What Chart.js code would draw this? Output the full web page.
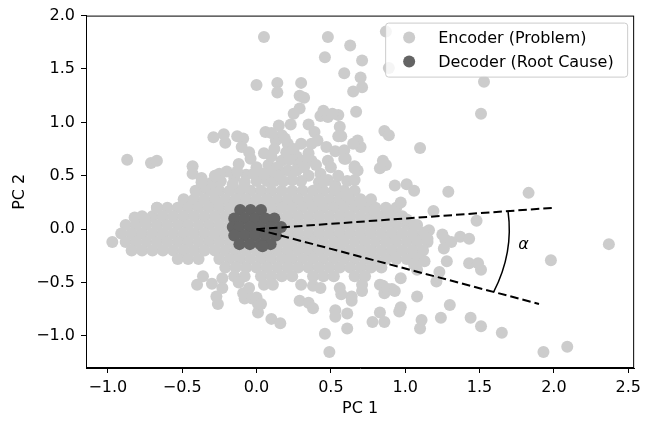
<!DOCTYPE html>
<html>
<head>
<meta charset="utf-8">
<script src="https://cdn.jsdelivr.net/npm/chart.js@4/dist/chart.umd.min.js"></script>
<style>
  html, body { margin: 0; padding: 0; background: #fff; }
</style>
</head>
<body>
<canvas id="c" width="646" height="421"></canvas>
<script>
// ---- axes ----
const xRange = [-1.147, 2.54];
const yRange = [-1.30, 2.0];
const xTicks = [-1.0, -0.5, 0.0, 0.5, 1.0, 1.5, 2.0, 2.5];
const yTicks = [-1.0, -0.5, 0.0, 0.5, 1.0, 1.5, 2.0];

// ---- encoder: dense body, read row by row (y of row, x of points) ----
const coreRowY = [0.36, 0.28, 0.20, 0.12, 0.04, -0.04, -0.12, -0.20, -0.28, -0.36, -0.44];
const coreRowX = [
  [-0.39,-0.32,-0.25,-0.18,-0.11,-0.04,0.03,0.10,0.17,0.24,0.31,0.38,0.45,0.52,0.59,0.66],
  [-0.49,-0.42,-0.35,-0.28,-0.21,-0.14,-0.07,0.00,0.07,0.14,0.21,0.28,0.35,0.42,0.49,0.56,0.63,0.70,0.77],
  [-0.67,-0.60,-0.53,-0.46,-0.39,-0.32,-0.25,-0.18,-0.11,-0.04,0.03,0.10,0.17,0.24,0.31,0.38,0.45,0.52,0.59,0.66,0.73,0.80,0.87,0.94],
  [-0.77,-0.70,-0.63,-0.56,-0.49,-0.42,-0.35,-0.28,-0.21,-0.14,-0.07,0.00,0.07,0.14,0.21,0.28,0.35,0.42,0.49,0.56,0.63,0.70,0.77,0.84,0.91,0.98],
  [-0.88,-0.81,-0.74,-0.67,-0.60,-0.53,-0.46,-0.39,-0.32,-0.25,-0.18,-0.11,-0.04,0.03,0.10,0.17,0.24,0.31,0.38,0.45,0.52,0.59,0.66,0.73,0.80,0.87,0.94,1.01,1.08],
  [-0.91,-0.84,-0.77,-0.70,-0.63,-0.56,-0.49,-0.42,-0.35,-0.28,-0.21,-0.14,-0.07,0.00,0.07,0.14,0.21,0.28,0.35,0.42,0.49,0.56,0.63,0.70,0.77,0.84,0.91,0.98,1.05,1.12],
  [-0.97,-0.88,-0.81,-0.74,-0.67,-0.60,-0.53,-0.46,-0.39,-0.32,-0.25,-0.18,-0.11,-0.04,0.03,0.10,0.17,0.24,0.31,0.38,0.45,0.52,0.59,0.66,0.73,0.80,0.87,0.94,1.01,1.08,1.15],
  [-0.84,-0.77,-0.70,-0.63,-0.56,-0.49,-0.42,-0.35,-0.28,-0.21,-0.14,-0.07,0.00,0.07,0.14,0.21,0.28,0.35,0.42,0.49,0.56,0.63,0.70,0.77,0.84,0.91,0.98,1.05,1.12],
  [-0.53,-0.46,-0.39,-0.25,-0.18,-0.11,-0.04,0.03,0.10,0.17,0.24,0.31,0.38,0.45,0.52,0.59,0.66,0.73,0.80,0.87,0.94,1.01,1.08],
  [-0.21,-0.14,-0.07,0.00,0.07,0.14,0.21,0.28,0.35,0.42,0.49,0.56,0.63,0.70,0.77,0.84],
  [-0.15,-0.08,0.03,0.10,0.17,0.24,0.38,0.45,0.52,0.66,0.73]
];

// ---- encoder: scattered points outside the dense body [x, y] ----
const encoderUpper = [
  [0.05,1.80],[0.48,1.80],[0.46,1.61],[0.63,1.72],[0.71,1.58],[0.87,1.85],[0.89,1.51],
  [0.59,1.46],[0.70,1.42],[0.71,1.33],[0.65,1.29],[1.53,1.38],[1.51,1.08],
  [0.00,1.35],[0.14,1.37],[0.14,1.28],[0.30,1.37],[0.29,1.25],[0.32,1.23],[0.25,1.08],
  [0.29,1.13],[0.45,1.11],[0.43,1.06],[0.48,1.05],[0.55,1.07],[0.67,1.10],[0.51,1.08],
  [0.06,0.91],[0.15,0.97],[0.23,0.98],[0.35,0.98],[0.39,0.91],[0.56,0.96],[0.57,0.87],
  [0.55,0.87],[0.86,0.92],[0.89,0.88],[1.10,0.76],[0.68,0.83],[0.70,0.77],
  [-0.29,0.86],[-0.22,0.89],[-0.21,0.81],[-0.13,0.87],[-0.09,0.85],[-0.10,0.77],
  [0.13,0.83],[0.21,0.80],[0.30,0.80],[0.41,0.83],[0.47,0.77],[0.53,0.73],[0.65,0.80],
  [0.59,0.74],[0.60,0.66],[0.17,0.88],[0.19,0.85],[0.37,0.80],[0.27,0.68],[0.31,0.64],
  [0.35,0.71],[-0.87,0.65],[-0.71,0.62],[-0.67,0.64],[-0.43,0.59],[-0.43,0.52],
  [-0.37,0.48],[-0.12,0.61],[-0.04,0.66],[0.05,0.71],[-0.20,0.54],[-0.15,0.48],
  [-0.07,0.51],[-0.31,0.43],[-0.27,0.37],[-0.41,0.36],[-0.67,0.20],[-0.82,0.11],
  [-0.75,0.09],[0.37,0.64],[0.28,0.60],[0.21,0.55],[0.17,0.64],[0.35,0.50],[0.43,0.52],
  [0.48,0.64],[0.59,0.66],[0.66,0.57],[0.61,0.45],[0.53,0.41],[0.85,0.64],[0.87,0.60],
  [0.83,0.57],[0.66,0.46],[0.68,0.55],[0.66,0.59],[0.93,0.41],[1.01,0.42],[1.06,0.36],
  [0.97,0.25],[1.19,0.17],[1.29,0.35],[1.83,0.34],[0.53,0.37],[0.61,0.31],[0.70,0.25],
  [0.79,0.18],[0.88,0.18],[0.00,0.58],[0.08,0.60],[0.03,0.52],[0.10,0.52],[0.00,0.45],
  [0.07,0.45],[0.12,0.45],[0.10,0.90],[0.12,0.75],[0.20,0.72],[0.25,0.75],[0.10,0.68],
  [0.22,0.65],[0.14,0.58],[0.27,0.55],[0.30,0.45],[0.24,0.46],[0.18,0.45],[-0.30,0.43],
  [-0.24,0.45],[-0.08,0.44],[0.42,0.44],[0.48,0.46],[0.32,0.58],[0.40,0.60],[0.45,0.45],
  [0.55,0.50],[0.50,0.58],[-0.25,0.52],[-0.35,0.40],[-0.05,0.72],[0.15,0.50],[0.05,0.52],
  [-0.37,0.44],[-0.16,0.42],[-0.28,0.50],[-0.13,0.54],[-0.02,0.52]
];
const encoderRight = [
  [1.48,0.08],[1.16,-0.01],[1.25,-0.05],[1.27,-0.10],[1.37,-0.07],[1.43,-0.09],[1.31,-0.12],
  [1.26,-0.18],[1.98,-0.29],[1.28,-0.30],[1.43,-0.32],[1.49,-0.32],[1.51,-0.38],[1.23,-0.40],
  [1.21,-0.49],[1.08,-0.63],[0.97,-0.46],[0.85,-0.53],[0.91,-0.56],[0.86,-0.60],[1.30,-0.71],
  [1.11,-0.85],[1.10,-0.93],[1.24,-0.83],[1.44,-0.83],[1.51,-0.91],[1.65,-0.97],[2.37,-0.14],
  [1.93,-1.15],[2.09,-1.10],[0.97,-0.73],[0.96,-0.77],[0.83,-0.78],[0.78,-0.87],[0.86,-0.87],
  [0.53,-0.76],[0.53,-0.82],[0.61,-0.79],[0.61,-0.93],[0.46,-0.98],[0.49,-1.15],[0.64,-0.63],
  [0.64,-0.67],[0.57,-0.61],[0.56,-0.55],[0.71,-0.52],[0.71,-0.58],[0.83,-0.52],[0.88,-0.56],
  [0.93,-0.58],[1.13,-0.03],[1.15,-0.09],[1.01,0.09],[1.06,0.04],[1.06,-0.33],[1.08,-0.38],
  [1.13,-0.30]
];
const encoderLowerLeft = [
  [-0.36,-0.44],[-0.40,-0.52],[-0.30,-0.51],[-0.23,-0.46],[-0.23,-0.55],[-0.27,-0.63],
  [-0.26,-0.70],[-0.09,-0.60],[-0.08,-0.65],[-0.03,-0.65],[0.01,-0.70],[0.01,-0.78],
  [0.10,-0.84],[0.16,-0.88],[0.05,-0.52],[0.11,-0.52],[0.30,-0.52],[0.38,-0.53],[0.43,-0.55],
  [0.29,-0.67],[0.35,-0.69],[0.38,-0.74],[0.00,-0.64],[0.03,-0.70],[-0.12,-0.50],[-0.05,-0.55]
];

// ---- decoder (root cause) cluster around the origin [x, y] ----
const decoderPts = [
  [-0.11,0.18],[-0.04,0.18],[0.03,0.18],
  [-0.15,0.10],[-0.08,0.10],[-0.01,0.10],[0.06,0.10],[0.12,0.10],
  [-0.16,0.02],[-0.115,0.02],[-0.045,0.02],[0.025,0.02],[0.095,0.02],[0.165,0.02],
  [-0.15,-0.06],[-0.08,-0.06],[-0.01,-0.06],[0.06,-0.06],[0.13,-0.06],
  [-0.115,-0.14],[-0.045,-0.14],[0.025,-0.14],[0.095,-0.14],[0.04,-0.16]
];

// ---- angle annotation ----
const lineUpper = [[0, 0], [2.0, 0.2]];
const lineLower = [[0, 0], [1.9, -0.7]];
const arcRadius = 1.7;
const alphaPos = [1.76, -0.19];

const encColor = "#cccccc";
const decColor = "#646464";
const FONT = "'DejaVu Sans', sans-serif";
const FS = 16;
const R = 6;

const toXY = p => ({ x: p[0], y: p[1] });
const encoderData = [];
coreRowY.forEach((y, i) => coreRowX[i].forEach(x => encoderData.push({ x, y })));
encoderUpper.concat(encoderRight, encoderLowerLeft).forEach(p => encoderData.push(toXY(p)));

const fmt = v => (v < 0 ? "\u2212" : "") + Math.abs(v).toFixed(1);

// frame, arc, alpha label and legend box (matplotlib look)
const extras = {
  id: "extras",
  afterDatasetsDraw(chart) {
    const { ctx, chartArea: ca, scales: { x, y } } = chart;
    ctx.save();
    // arc between the two dashed lines
    const cx = x.getPixelForValue(0), cy = y.getPixelForValue(0);
    const rx = x.getPixelForValue(arcRadius) - cx;
    const ry = cy - y.getPixelForValue(arcRadius);
    const a1 = Math.atan2(lineUpper[1][1], lineUpper[1][0]);
    const a2 = Math.atan2(lineLower[1][1], lineLower[1][0]);
    ctx.beginPath();
    ctx.ellipse(cx, cy, rx, ry, 0, -a1, -a2);
    ctx.strokeStyle = "#000";
    ctx.lineWidth = 1.5;
    ctx.stroke();
    // alpha
    ctx.fillStyle = "#000";
    ctx.font = "italic " + FS + "px " + FONT;
    ctx.textAlign = "left";
    ctx.textBaseline = "alphabetic";
    ctx.fillText("\u03b1", x.getPixelForValue(alphaPos[0]), y.getPixelForValue(alphaPos[1]));
    // full box
    ctx.strokeStyle = "#000";
    ctx.lineWidth = 1;
    ctx.strokeRect(ca.left + 0.5, ca.top + 0.5, ca.right - ca.left - 1, ca.bottom - ca.top - 1);
    // legend
    const w = 242, h = 54;
    const lx = ca.right - 7 - w, ly = ca.top + 7;
    ctx.beginPath();
    ctx.roundRect(lx + 0.5, ly + 0.5, w, h, 3);
    ctx.fillStyle = "rgba(255,255,255,0.8)";
    ctx.fill();
    ctx.strokeStyle = "#cccccc";
    ctx.stroke();
    const items = chart.data.datasets.slice(0, 2);
    items.forEach((ds, i) => {
      const my = ly + 15 + i * 24;
      ctx.beginPath();
      ctx.arc(lx + 24, my, R, 0, Math.PI * 2);
      ctx.fillStyle = ds.backgroundColor;
      ctx.fill();
      ctx.fillStyle = "#000";
      ctx.font = FS + "px " + FONT;
      ctx.textBaseline = "middle";
      ctx.fillText(ds.label, lx + 53, my + 1);
    });
    ctx.restore();
  }
};

new Chart(document.getElementById("c"), {
  type: "scatter",
  data: {
    datasets: [
      { label: "Encoder (Problem)", data: encoderData, backgroundColor: encColor,
        pointRadius: R, pointBorderWidth: 0, borderWidth: 0, order: 3 },
      { label: "Decoder (Root Cause)", data: decoderPts.map(toXY), backgroundColor: decColor,
        pointRadius: R, pointBorderWidth: 0, borderWidth: 0, order: 2 },
      { type: "line", label: "upper", data: lineUpper.map(toXY), borderColor: "#000",
        borderWidth: 2, borderDash: [8.5, 4], pointRadius: 0, fill: false, order: 1 },
      { type: "line", label: "lower", data: lineLower.map(toXY), borderColor: "#000",
        borderWidth: 2, borderDash: [8.5, 4], pointRadius: 0, fill: false, order: 1 }
    ]
  },
  options: {
    responsive: false,
    animation: false,
    devicePixelRatio: 1,
    layout: { padding: { left: 0, right: 7, top: 10, bottom: 0 } },
    plugins: { legend: { display: false }, tooltip: { enabled: false } },
    scales: {
      x: {
        type: "linear", min: xRange[0], max: xRange[1],
        afterBuildTicks: s => { s.ticks = xTicks.map(v => ({ value: v })); },
        afterFit: s => { s.height = 53; },
        ticks: { callback: fmt, color: "#000", font: { family: FONT, size: FS },
                 padding: 5, maxRotation: 0, autoSkip: false },
        grid: { drawOnChartArea: false, drawTicks: true, tickLength: 5, tickColor: "#000", tickWidth: 1 },
        border: { color: "#000", width: 1 },
        title: { display: true, text: "PC 1", color: "#000", font: { family: FONT, size: FS },
                 padding: { top: 0, bottom: 3 } }
      },
      y: {
        type: "linear", min: yRange[0], max: yRange[1],
        afterBuildTicks: s => { s.ticks = yTicks.map(v => ({ value: v })); },
        afterFit: s => { s.width = 86; },
        ticks: { callback: fmt, color: "#000", font: { family: FONT, size: FS },
                 padding: 6, autoSkip: false },
        grid: { drawOnChartArea: false, drawTicks: true, tickLength: 5, tickColor: "#000", tickWidth: 1 },
        border: { color: "#000", width: 1 },
        title: { display: true, text: "PC 2", color: "#000", font: { family: FONT, size: FS },
                 padding: { top: 10, bottom: 0 } }
      }
    }
  },
  plugins: [extras]
});
</script>
</body>
</html>
